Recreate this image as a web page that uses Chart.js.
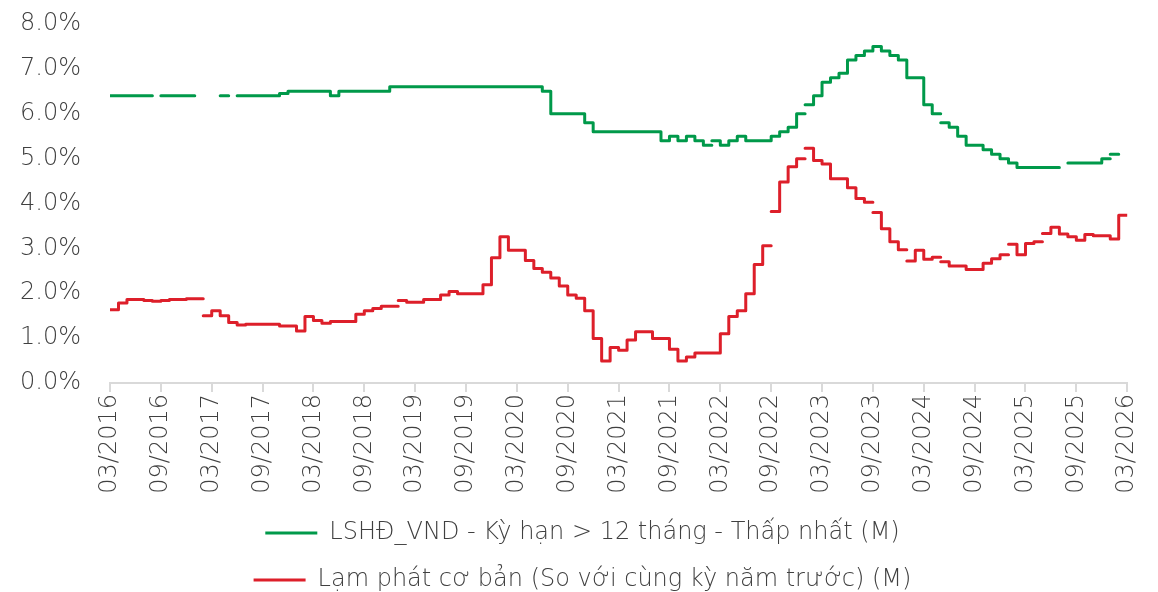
<!DOCTYPE html>
<html>
<head>
<meta charset="utf-8">
<script src="https://cdn.jsdelivr.net/npm/chart.js@4.4.1/dist/chart.umd.min.js"></script>
<style>
  html, body { margin: 0; padding: 0; background: #fff; }
  #wrap { width: 1158px; height: 592px; position: relative; }
</style>
</head>
<body>
<div id="wrap"><canvas id="myChart"></canvas></div>
<script>
// tick labels every 6 months, month 0 = 03/2016
const tickLabels = ['03/2016', '09/2016', '03/2017', '09/2017', '03/2018', '09/2018', '03/2019',
  '09/2019', '03/2020', '09/2020', '03/2021', '09/2021', '03/2022', '09/2022', '03/2023',
  '09/2023', '03/2024', '09/2024', '03/2025', '09/2025', '03/2026'];

const seriesNames = ['LSHĐ_VND - Kỳ hạn > 12 tháng - Thấp nhất (M)',
  'Lạm phát cơ bản (So với cùng kỳ năm trước) (M)'];

// monthly values (%), one per month from 03/2016; null = no data
const depositRate = [
  6.4, 6.4, 6.4, 6.4, 6.4, null, 6.4, 6.4, 6.4, 6.4,
  null, null, null, 6.4, null, 6.4, 6.4, 6.4, 6.4, 6.4,
  6.45, 6.5, 6.5, 6.5, 6.5, 6.5, 6.4, 6.5, 6.5, 6.5,
  6.5, 6.5, 6.5, 6.6, 6.6, 6.6, 6.6, 6.6, 6.6, 6.6,
  6.6, 6.6, 6.6, 6.6, 6.6, 6.6, 6.6, 6.6, 6.6, 6.6,
  6.6, 6.5, 6.0, 6.0, 6.0, 6.0, 5.8, 5.6, 5.6, 5.6,
  5.6, 5.6, 5.6, 5.6, 5.6, 5.4, 5.5, 5.4, 5.5, 5.4,
  5.3, 5.4, 5.3, 5.4, 5.5, 5.4, 5.4, 5.4, 5.5, 5.6,
  5.7, 6.0, 6.2, 6.4, 6.7, 6.8, 6.9, 7.2, 7.3, 7.4,
  7.5, 7.4, 7.3, 7.2, 6.8, 6.8, 6.2, 6.0, 5.8, 5.7,
  5.5, 5.3, 5.3, 5.2, 5.1, 5.0, 4.9, 4.8, 4.8, 4.8,
  4.8, 4.8, null, 4.9, 4.9, 4.9, 4.9, 5.0, 5.1, null
];
const coreInflation = [
  1.63, 1.78, 1.86, 1.86, 1.84, 1.82, 1.84, 1.86, 1.86, 1.88,
  1.88, 1.50, 1.61, 1.50, 1.35, 1.29, 1.31, 1.31, 1.31, 1.31,
  1.27, 1.27, 1.16, 1.48, 1.39, 1.33, 1.37, 1.37, 1.37, 1.53,
  1.61, 1.66, 1.71, 1.71, 1.84, 1.80, 1.80, 1.86, 1.86, 1.96,
  2.04, 1.99, 1.99, 1.99, 2.19, 2.79, 3.26, 2.96, 2.96, 2.73,
  2.55, 2.47, 2.34, 2.16, 1.96, 1.89, 1.61, 0.99, 0.49, 0.79,
  0.73, 0.96, 1.14, 1.14, 0.99, 0.99, 0.75, 0.49, 0.58, 0.67,
  0.67, 0.67, 1.10, 1.48, 1.61, 1.99, 2.64, 3.06, 3.82, 4.48,
  4.82, 5.00, 5.23, 4.96, 4.88, 4.55, 4.55, 4.35, 4.11, 4.03,
  3.80, 3.44, 3.15, 2.97, 2.72, 2.96, 2.76, 2.80, 2.70, 2.61,
  2.61, 2.53, 2.53, 2.67, 2.77, 2.86, 3.09, 2.86, 3.11, 3.15,
  3.33, 3.47, 3.32, 3.26, 3.18, 3.31, 3.28, 3.28, 3.21, 3.74
];
// months where the line restarts without a joining step
const depositBreaks = [71, 82, 98, 118];
const inflationBreaks = [11, 34, 78, 82, 90, 94, 98, 106, 110];

const GREEN = '#00994a';
const RED = '#dd1f2a';
const TEXT = '#404040';
const FONT = "'DejaVu Sans', sans-serif";

// each month's value is held flat until the next month
function buildPoints(values, breaks) {
  const pts = [];
  let prev = null;
  for (let i = 0; i < values.length; i++) {
    const v = values[i];
    if ((v === null || breaks.includes(i)) && prev !== null) {
      pts.push({x: i, y: prev});
      pts.push({x: i, y: null});
      prev = null;
    }
    if (v === null) continue;
    pts.push({x: i, y: v});
    prev = v;
  }
  if (prev !== null) pts.push({x: values.length, y: prev});
  return pts;
}

document.addEventListener('DOMContentLoaded', () => {
  const ctx = document.getElementById('myChart');
  const lineStyle = {
    borderWidth: 3,
    pointRadius: 0,
    pointHoverRadius: 0,
    stepped: 'before',
    spanGaps: false,
    borderCapStyle: 'round',
    borderJoinStyle: 'round',
    fill: false
  };
  window.chart = new Chart(ctx, {
    type: 'line',
    data: {
      datasets: [{
        ...lineStyle,
        label: seriesNames[0],
        data: buildPoints(depositRate, depositBreaks),
        borderColor: GREEN,
        backgroundColor: GREEN
      }, {
        ...lineStyle,
        label: seriesNames[1],
        data: buildPoints(coreInflation, inflationBreaks),
        borderColor: RED,
        backgroundColor: RED
      }]
    },
    options: {
      maintainAspectRatio: false,
      responsive: true,
      animation: false,
      layout: {
        padding: {left: 20, right: 13, top: 24, bottom: -10}
      },
      plugins: {
        tooltip: {enabled: false},
        legend: {
          position: 'bottom',
          labels: {
            usePointStyle: true,
            pointStyle: 'line',
            pointStyleWidth: 52,
            padding: 23,
            color: TEXT,
            font: {family: FONT, size: 24, weight: 200}
          }
        }
      },
      scales: {
        x: {
          type: 'linear',
          min: 0,
          max: 120,
          afterFit: (scale) => { scale.height = 115; },
          border: {display: true, color: '#d9d9d9', width: 2},
          grid: {
            display: true,
            drawOnChartArea: false,
            drawTicks: true,
            tickLength: 9,
            color: '#d9d9d9',
            lineWidth: 2
          },
          ticks: {
            stepSize: 6,
            autoSkip: false,
            minRotation: 90,
            maxRotation: 90,
            padding: 2,
            color: TEXT,
            font: {family: FONT, size: 24, weight: 200},
            callback: (value) => tickLabels[value / 6]
          }
        },
        y: {
          min: 0,
          max: 8,
          afterFit: (scale) => { scale.width = 90; },
          border: {display: false},
          grid: {display: false, drawTicks: false},
          ticks: {
            stepSize: 1,
            padding: 2,
            crossAlign: 'far',
            color: TEXT,
            font: {family: FONT, size: 24, weight: 200},
            callback: (value) => value.toFixed(1) + '%'
          }
        }
      }
    }
  });
});
</script>
</body>
</html>
